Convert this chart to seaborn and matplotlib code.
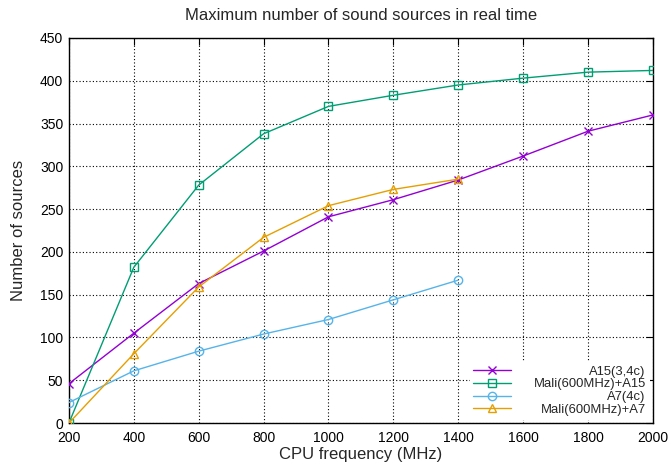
import matplotlib
matplotlib.use("Agg")
import matplotlib.pyplot as plt
import seaborn as sns
import pandas as pd

freq = [200, 400, 600, 800, 1000, 1200, 1400, 1600, 1800, 2000]
freq7 = [200, 400, 600, 800, 1000, 1200, 1400]
a15 = [46, 105, 163, 201, 241, 261, 284, 312, 341, 360]
mali_a15 = [0, 182, 278, 338, 370, 383, 395, 403, 410, 412]
a7 = [24, 61, 84, 104, 121, 144, 167]
mali_a7 = [0, 81, 159, 217, 254, 273, 285]

names = ["A15(3,4c)", "Mali(600MHz)+A15", "A7(4c)", "Mali(600MHz)+A7"]
colors = ["#9400D3", "#009E73", "#56B4E9", "#E69F00"]
markers = ["x", "s", "o", "^"]

rows = []
for n, xs, ys in [(names[0], freq, a15), (names[1], freq, mali_a15),
                  (names[2], freq7, a7), (names[3], freq7, mali_a7)]:
    for x, y in zip(xs, ys):
        rows.append({"freq": x, "val": y, "series": n})
df = pd.DataFrame(rows)

sns.set_theme(style="white")
plt.rcParams["font.family"] = ["Liberation Sans", "DejaVu Sans"]

fig = plt.figure(figsize=(6.69, 4.68), dpi=100)
ax = fig.add_axes([0.103, 0.096, 0.873, 0.823])

for n, c, m in zip(names, colors, markers):
    sub = df[df.series == n]
    sns.lineplot(data=sub, x="freq", y="val", ax=ax, color=c, marker=m,
                 markersize=6, markerfacecolor="none" if m != "x" else c,
                 markeredgecolor=c, markeredgewidth=1.0, linewidth=1.0,
                 label=n, zorder=3)

ax.set_xlim(200, 2000)
ax.set_ylim(0, 450)
ax.set_xticks(range(200, 2001, 200))
ax.set_yticks(range(0, 451, 50))
ax.grid(True, color="black", linestyle=(0, (1, 2)), linewidth=0.8)
ax.tick_params(direction="in", top=True, right=True, length=5, width=0.8,
               labelsize=10, colors="black", pad=4)
ax.tick_params(axis="x", pad=6)
for s in ax.spines.values():
    s.set_color("black")
    s.set_linewidth(1.0)
ax.set_xlabel("CPU frequency (MHz)", fontsize=12, labelpad=1)
ax.set_ylabel("Number of sources", fontsize=12, labelpad=10)
ax.set_title("Maximum number of sound sources in real time", fontsize=12, pad=13)

leg = ax.legend(loc="lower right", frameon=True, fancybox=False, framealpha=1,
                facecolor="white", edgecolor="none", fontsize=9.4,
                handlelength=2.9, borderpad=0.3, labelspacing=0.05,
                handletextpad=1.7, borderaxespad=0.25)
leg.set_zorder(5)
fig.canvas.draw()
r = fig.canvas.get_renderer()
texts = leg.get_texts()
widths = [t.get_window_extent(r).width for t in texts]
mw = max(widths)
for t, w in zip(texts, widths):
    t.set_x(mw - w)

fig.savefig("out.png", dpi=100)
